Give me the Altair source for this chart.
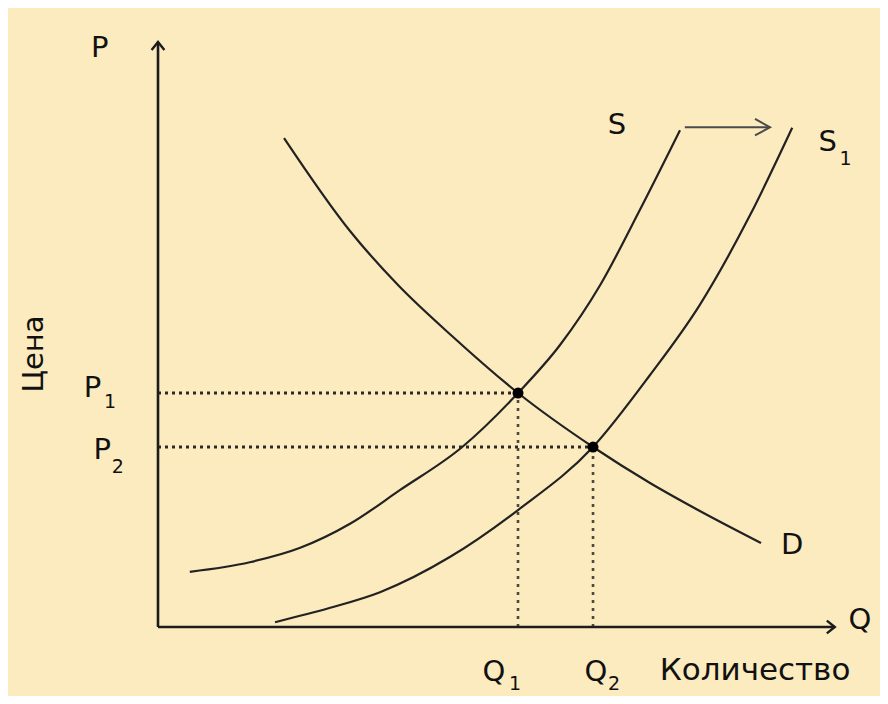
import altair as alt
import pandas as pd

# Demand curve D
d_q = [2.1, 3.2, 4.0, 4.9, 6.0, 7.25, 8.2, 9.0, 10.05]
d_p = [8.15, 6.6, 5.7, 4.85, 3.9, 3.0, 2.4, 1.95, 1.4]
# Supply curve S
s_q = [0.53, 1.53, 2.37, 3.2, 4.03, 5.07, 6.0, 6.7, 7.37, 8.03, 8.7]
s_p = [0.92, 1.08, 1.32, 1.72, 2.28, 3.0, 3.9, 4.7, 5.7, 6.95, 8.28]
# Shifted supply curve S1
s1_q = [1.95, 2.87, 3.7, 4.87, 6.0, 7.25, 8.2, 9.03, 9.87, 10.57]
s1_p = [0.08, 0.32, 0.58, 1.17, 1.95, 3.0, 4.2, 5.37, 6.87, 8.32]

# Equilibria
eq_q = [6.0, 7.25]
eq_p = [3.9, 3.0]

# Axes extent
axis_q_max = 11.28
axis_p_max = 9.75

# Shift arrow
shift_q = [8.78, 10.2]
shift_p = 8.33

# Labels: (text, q, p, size, angle)
lab_text = ["P", "Цена", "P", "1", "P", "2", "S", "S", "1", "D", "Q", "Q", "1", "Q", "2", "Количество"]
lab_q = [-0.97, -2.07, -1.09, -0.8, -0.93, -0.67, 7.65, 11.16, 11.46, 10.57, 11.7, 5.6, 5.95, 7.3, 7.6, 9.95]
lab_p = [9.65, 4.55, 3.98, 3.75, 2.95, 2.66, 8.37, 8.08, 7.8, 1.37, 0.12, -0.75, -0.95, -0.75, -0.95, -0.73]
lab_size = [29, 29, 29, 19, 29, 19, 29, 29, 19, 29, 29, 29, 19, 29, 19, 31]
lab_angle = [0, 270, 0, 0, 0, 0, 0, 0, 0, 0, 0, 0, 0, 0, 0, 0]

BG = "#FCEBBE"
INK = "#1c1c1c"
FONT = "DejaVu Sans"

xs = alt.Scale(domain=[-2.5, 12.033], nice=False, zero=False)
ys = alt.Scale(domain=[-1.15, 10.317], nice=False, zero=False)


def X(f):
    return alt.X(f, type="quantitative", scale=xs, axis=None)


def Y(f):
    return alt.Y(f, type="quantitative", scale=ys, axis=None)


def curve(qs, ps):
    df = pd.DataFrame({"q": qs, "p": ps, "o": range(len(qs))})
    return alt.Chart(df).mark_line(color="#222", strokeWidth=2.2, interpolate="monotone").encode(
        x=X("q"), y=Y("p"), order="o:Q")


axes_df = pd.DataFrame({"q": [0, 0], "p": [0, 0], "q2": [0, axis_q_max], "p2": [axis_p_max, 0]})
axes = alt.Chart(axes_df).mark_rule(color=INK, strokeWidth=2.6).encode(
    x=X("q"), y=Y("p"), x2="q2", y2="p2")

heads_df = pd.DataFrame({"q": [0, axis_q_max], "p": [axis_p_max, 0], "a": [0, 90]})
heads = alt.Chart(heads_df).mark_point(
    shape="M-0.8,1L0,0L0.8,1", filled=False, size=256, strokeWidth=2.4, color=INK, opacity=1
).encode(x=X("q"), y=Y("p"), angle=alt.Angle("a:Q", scale=None))

hdot_df = pd.DataFrame({"q": [0, 0], "q2": eq_q, "p": eq_p})
hdots = alt.Chart(hdot_df).mark_rule(color="#2a2a2a", strokeWidth=3, strokeDash=[3, 4]).encode(
    x=X("q"), x2="q2", y=Y("p"))

vdot_df = pd.DataFrame({"q": eq_q, "p": [0, 0], "p2": eq_p})
vdots = alt.Chart(vdot_df).mark_rule(color="#4a4a40", strokeWidth=2.6, strokeDash=[3, 5]).encode(
    x=X("q"), y=Y("p"), y2="p2")

eq_df = pd.DataFrame({"q": eq_q, "p": eq_p})
eq = alt.Chart(eq_df).mark_point(shape="circle", filled=True, size=120, color="#000", opacity=1).encode(
    x=X("q"), y=Y("p"))

shift_df = pd.DataFrame({"q": [shift_q[0]], "q2": [shift_q[1]], "p": [shift_p]})
shift_line = alt.Chart(shift_df).mark_rule(color="#4a4a4a", strokeWidth=2).encode(
    x=X("q"), x2="q2", y=Y("p"))
shift_head = alt.Chart(pd.DataFrame({"q": [shift_q[1]], "p": [shift_p]})).mark_point(
    shape="M-0.55,1L0,0L0.55,1", filled=False, size=900, strokeWidth=2, color="#4a4a4a", opacity=1, angle=90
).encode(x=X("q"), y=Y("p"))

lab_df = pd.DataFrame({"t": lab_text, "q": lab_q, "p": lab_p, "s": lab_size, "a": lab_angle})
labels = alt.Chart(lab_df).mark_text(font=FONT, color="#111", align="center", baseline="middle").encode(
    x=X("q"), y=Y("p"), text="t:N",
    size=alt.Size("s:Q", scale=None),
    angle=alt.Angle("a:Q", scale=None))

chart = alt.layer(
    hdots, vdots, curve(d_q, d_p), curve(s_q, s_p), curve(s1_q, s1_p),
    axes, heads, eq, shift_line, shift_head, labels
).properties(
    width=872, height=688,
    autosize=alt.AutoSizeParams(type="fit", contains="padding"),
    padding=0, background=BG
).configure_view(stroke=None)

chart.save("out.html", embed_options={"renderer": "svg", "actions": False})
